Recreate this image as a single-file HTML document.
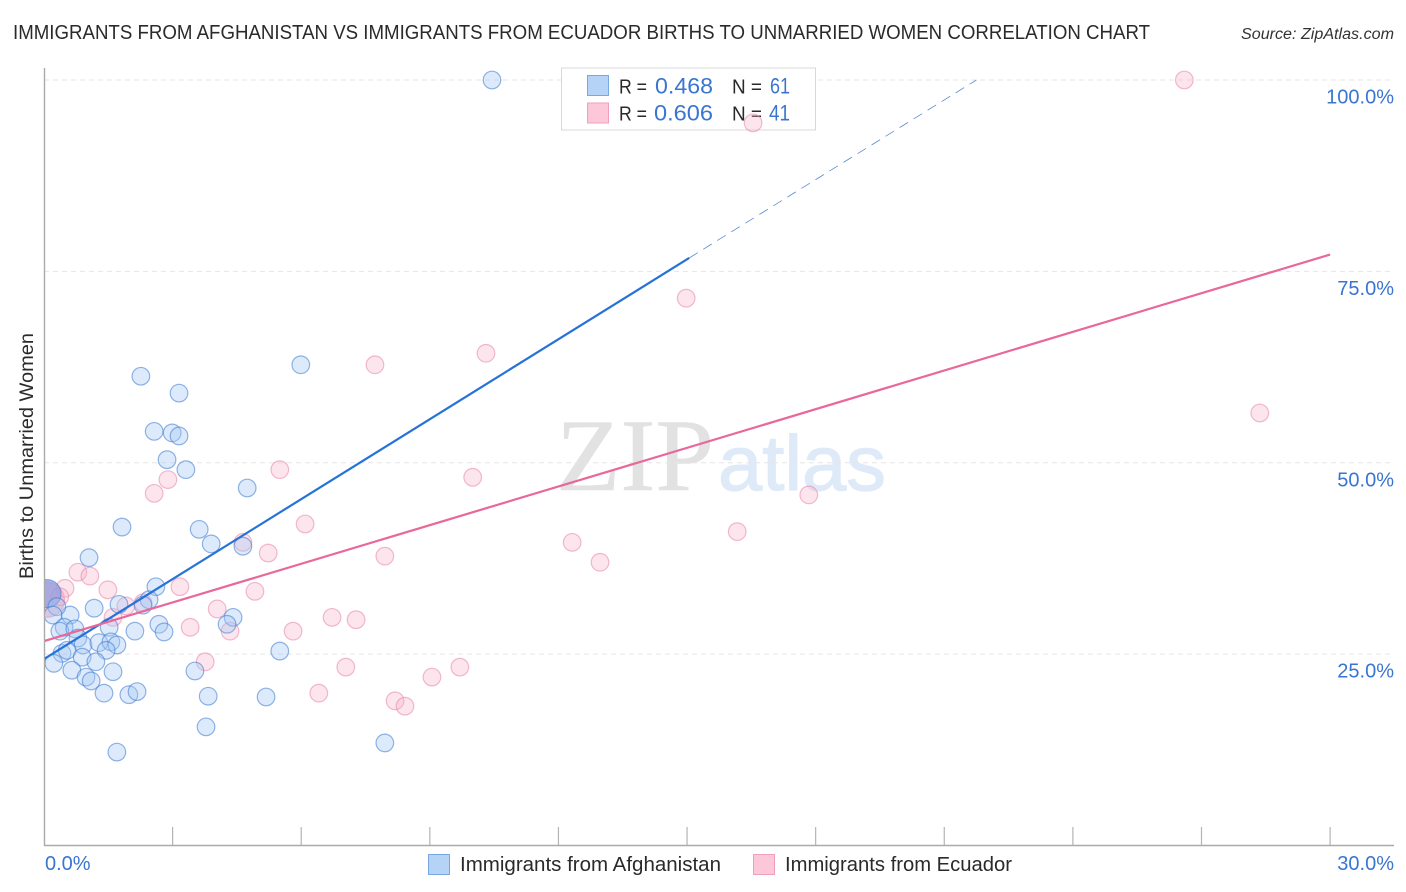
<!DOCTYPE html>
<html lang="en">
<head>
<meta charset="utf-8">
<title>Immigrants from Afghanistan vs Immigrants from Ecuador Births to Unmarried Women Correlation Chart</title>
<style>
html,body{margin:0;padding:0;background:#fff;width:1406px;height:892px;overflow:hidden}
svg{display:block}
text{font-family:"Liberation Sans",sans-serif}
</style>
</head>
<body>
<svg id="chart" width="1406" height="892" viewBox="0 0 1406 892" xmlns="http://www.w3.org/2000/svg">
  <defs><clipPath id="plot-clip"><rect x="45" y="60" width="1349" height="785"/></clipPath></defs>
  <g id="watermark">
    <text x="556" y="490" font-size="103" textLength="158" lengthAdjust="spacingAndGlyphs" fill="#e2e2e2" stroke="#e2e2e2" stroke-width="0.6" style="font-family:'Liberation Serif',serif">ZIP</text>
    <text x="718" y="490" font-size="78" textLength="168" lengthAdjust="spacingAndGlyphs" fill="#dfeaf9" stroke="#dfeaf9" stroke-width="1.2">atlas</text>
  </g>
  <g id="grid"></g>
  <g id="axes"></g>
  <g id="legend-box">
    <rect x="561.5" y="68" width="254" height="62" fill="#fff" stroke="#d8d8d8"/>
    <rect x="587.5" y="75.5" width="21" height="20" fill="#b5d3f7" stroke="#78a8e0"/>
    <rect x="587.5" y="103" width="21" height="20" fill="#fcc8d9" stroke="#f0a0bb"/>
    <text x="619" y="93.5" font-size="20" textLength="28" lengthAdjust="spacingAndGlyphs" fill="#2a2a2a">R =</text>
    <text x="655" y="93.5" font-size="22" textLength="58" lengthAdjust="spacingAndGlyphs" fill="#3a75d0">0.468</text>
    <text x="732" y="93.5" font-size="20" textLength="30" lengthAdjust="spacingAndGlyphs" fill="#2a2a2a">N =</text>
    <text x="770" y="93.5" font-size="22" textLength="20" lengthAdjust="spacingAndGlyphs" fill="#3a75d0">61</text>
    <text x="619" y="120.5" font-size="20" textLength="28" lengthAdjust="spacingAndGlyphs" fill="#2a2a2a">R =</text>
    <text x="654" y="120.5" font-size="22" textLength="59" lengthAdjust="spacingAndGlyphs" fill="#3a75d0">0.606</text>
    <text x="732" y="120.5" font-size="20" textLength="30" lengthAdjust="spacingAndGlyphs" fill="#2a2a2a">N =</text>
    <text x="769" y="120.5" font-size="22" textLength="21" lengthAdjust="spacingAndGlyphs" fill="#3a75d0">41</text>
  </g>
  <g id="marks" clip-path="url(#plot-clip)"></g>
  <text x="13" y="39" font-size="20" textLength="1137" lengthAdjust="spacingAndGlyphs" fill="#2a2a2a">IMMIGRANTS FROM AFGHANISTAN VS IMMIGRANTS FROM ECUADOR BIRTHS TO UNMARRIED WOMEN CORRELATION CHART</text>
  <text x="1241" y="39" font-size="15.5" font-style="italic" textLength="153" lengthAdjust="spacingAndGlyphs" fill="#333">Source: ZipAtlas.com</text>
  <text transform="translate(33,579) rotate(-90)" font-size="19" textLength="246" lengthAdjust="spacingAndGlyphs" fill="#2a2a2a">Births to Unmarried Women</text>
  <g id="bottom-legend">
    <rect x="428.5" y="854.5" width="21" height="20" fill="#b5d3f7" stroke="#78a8e0"/>
    <text x="460" y="871" font-size="20" textLength="261" lengthAdjust="spacingAndGlyphs" fill="#2a2a2a">Immigrants from Afghanistan</text>
    <rect x="753.5" y="854.5" width="21" height="20" fill="#fcc8d9" stroke="#f0a0bb"/>
    <text x="785" y="871" font-size="20" textLength="227" lengthAdjust="spacingAndGlyphs" fill="#2a2a2a">Immigrants from Ecuador</text>
  </g>
</svg>
<script>
// Chart data (all in percent units)
const xTickValues = [0, 3, 6, 9, 12, 15, 18, 21, 24, 27, 30];
const xEndLabels = ["0.0%", "30.0%"];
const yTickValues = [25, 50, 75, 100];
const yTickLabels = ["25.0%", "50.0%", "75.0%", "100.0%"];
const afghanistanX = [10.45,5.99,2.26,3.15,2.57,2.99,3.15,2.87,3.31,4.74,1.82,3.62,3.90,4.64,1.05,2.61,2.45,1.75,1.17,2.31,0.61,0.30,0.21,4.41,4.27,2.68,2.80,2.12,1.52,0.47,0.37,0.72,0.79,0.91,1.28,1.56,1.70,1.45,0.42,0.54,5.50,3.52,0.89,1.21,0.23,0.65,1.61,0.98,1.10,1.40,1.98,2.17,3.83,5.18,3.78,7.95,1.70];
const afghanistanY = [100,62.8,61.3,59.1,54.1,53.9,53.5,50.4,49.1,46.7,41.6,41.3,39.4,39.1,37.6,33.8,32.1,31.5,31.0,31.4,30.1,31.2,30.1,29.8,28.9,28.9,27.9,28.0,28.5,28.5,28.0,28.3,27.1,26.2,26.5,26.6,26.2,25.5,25.1,25.5,25.4,22.8,24.6,24.0,23.8,22.9,22.7,22.0,21.5,19.9,19.7,20.1,19.5,19.4,15.5,13.4,12.2];
const ecuadorX = [26.6,16.54,14.98,10.31,7.72,28.36,5.5,10.0,17.84,2.89,2.57,6.09,16.17,12.32,7.95,12.97,5.23,4.64,0.79,1.07,1.49,0.49,0.37,1.91,2.31,1.61,3.17,4.04,4.92,3.41,4.34,5.81,3.76,6.41,6.72,7.28,7.04,9.70,9.05,8.19,8.42];
const ecuadorY = [100,94.4,71.5,64.3,62.8,56.5,49.1,48.1,45.8,47.8,46.0,42.0,41.0,39.6,37.8,37.0,38.2,39.6,35.7,35.2,33.4,33.6,32.5,31.3,31.7,29.8,33.8,30.9,33.2,28.5,28.0,28.0,24.0,19.9,29.8,29.5,23.3,23.3,22.0,18.9,18.2];
// Dense clusters at the axis, drawn as one enlarged bubble
const afghanistanClusterX = [0.07];
const afghanistanClusterY = [32.9];
const ecuadorClusterX = [0.07];
const ecuadorClusterY = [32.1];
// Trend lines: [x, y] at ends
const afghanistanTrendX = [0, 15.05];
const afghanistanTrendY = [24.36, 76.75];
const afghanistanDashX = [15.05, 21.75];
const afghanistanDashY = [76.75, 100];
const ecuadorTrendX = [0, 30];
const ecuadorTrendY = [26.7, 77.2];

const NS = "http://www.w3.org/2000/svg";
const xScale = v => 44 + v * 42.87;
const yScale = v => 845.5 - v * 7.655;
function mk(tag, attrs, parent) {
  const el = document.createElementNS(NS, tag);
  for (const k in attrs) el.setAttribute(k, attrs[k]);
  parent.appendChild(el);
  return el;
}
const grid = document.getElementById("grid");
const axes = document.getElementById("axes");
const marks = document.getElementById("marks");

yTickValues.forEach((v, i) => {
  const line = mk("line", {x1: 44, x2: 1394, y1: yScale(v), y2: yScale(v), stroke: "#e6e6e6", "stroke-width": 1, "stroke-dasharray": "5 4"}, grid);
  
  
  const label = mk("text", {x: 1394, y: yScale(v) + 23.5, "text-anchor": "end", "font-size": 20, fill: "#3a75d0"}, axes);
  
  
  label.textContent = yTickLabels[i];
});

const yAxis = mk("line", {x1: 44.5, x2: 44.5, y1: 68, y2: 846, stroke: "#aaa", "stroke-width": 1.4}, axes);


const xAxis = mk("line", {x1: 44, x2: 1394, y1: 845.5, y2: 845.5, stroke: "#aaa", "stroke-width": 1.4}, axes);


xTickValues.slice(1).forEach(v => {
  const tick = mk("line", {x1: xScale(v), x2: xScale(v), y1: 827, y2: 845, stroke: "#b4b4b4", "stroke-width": 1.2}, axes);
  
  
});
const xLabelLeft = mk("text", {x: 45, y: 870, "font-size": 20, fill: "#3a75d0"}, axes);


xLabelLeft.textContent = xEndLabels[0];
const xLabelRight = mk("text", {x: 1394, y: 870, "text-anchor": "end", "font-size": 20, fill: "#3a75d0"}, axes);


xLabelRight.textContent = xEndLabels[1];

function drawPoints(xs, ys, r, fill, stroke, fillOpacity, name) {
  xs.forEach((x, i) => {
    const c = mk("circle", {cx: xScale(x), cy: yScale(ys[i]), r: r, fill: fill, "fill-opacity": fillOpacity, stroke: stroke, "stroke-opacity": 0.55, "stroke-width": 1.2}, marks);
    
    
  });
}
drawPoints(ecuadorClusterX, ecuadorClusterY, 17.5, "#f4a3bf", "#e884a8", 0.6, "point-ecuador-cluster");
drawPoints(ecuadorX, ecuadorY, 8.8, "#f7b3cb", "#e884a8", 0.34, "point-ecuador");
drawPoints(afghanistanClusterX, afghanistanClusterY, 14, "#8f9fe0", "#3a78cf", 0.75, "point-afghanistan-cluster");
drawPoints(afghanistanX, afghanistanY, 8.8, "#a6c9f5", "#3a78cf", 0.38, "point-afghanistan");

const dash = mk("line", {x1: xScale(afghanistanDashX[0]), y1: yScale(afghanistanDashY[0]), x2: xScale(afghanistanDashX[1]), y2: yScale(afghanistanDashY[1]), stroke: "#5a8ad4", "stroke-width": 0.8, "stroke-dasharray": "10 6.5"}, marks);


const blueTrend = mk("line", {x1: xScale(afghanistanTrendX[0]), y1: yScale(afghanistanTrendY[0]), x2: xScale(afghanistanTrendX[1]), y2: yScale(afghanistanTrendY[1]), stroke: "#2673d8", "stroke-width": 2.2}, marks);


const pinkTrend = mk("line", {x1: xScale(ecuadorTrendX[0]), y1: yScale(ecuadorTrendY[0]), x2: xScale(ecuadorTrendX[1]), y2: yScale(ecuadorTrendY[1]), stroke: "#e8689a", "stroke-width": 2.2}, marks);


</script>
</body>
</html>
